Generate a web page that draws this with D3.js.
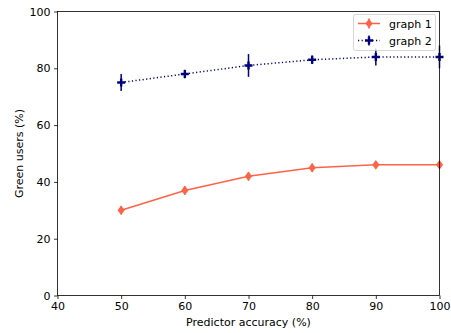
<!DOCTYPE html>
<html><head><meta charset="utf-8">
<script src="https://cdn.jsdelivr.net/npm/d3@7"></script>
<style>body{margin:0;background:#fff}svg{display:block}text{font-family:"DejaVu Sans",sans-serif}</style>
</head><body><svg id="c" width="451" height="333"></svg>
<script>
const xVals = [50, 60, 70, 80, 90, 100];
const graph1 = [30, 37, 42, 45, 46, 46];
const graph1Err = [1.5, 1.5, 1.5, 1.5, 1, 1];
const graph2 = [75, 78, 81, 83, 84, 84];
const graph2Err = [3, 1.5, 4, 1.5, 3, 4];
const xTicks = [40, 50, 60, 70, 80, 90, 100];
const yTicks = [0, 20, 40, 60, 80, 100];

const svg = d3.select("#c");
const L = 57.5, R = 439.5, T = 11.5, B = 295.5;
const FS = 11;
const x = d3.scaleLinear().domain([40, 100]).range([L, R]);
const y = d3.scaleLinear().domain([0, 100]).range([B, T]);

const series = [
  {name: "graph 1", vals: graph1, err: graph1Err, color: "#ff6347", dash: null, marker: "d"},
  {name: "graph 2", vals: graph2, err: graph2Err, color: "#000080", dash: "1.2,2.4", marker: "+"}
];

const g = svg.append("g");
function drawMarker(sel, s, cx, cy) {
  if (s.marker === "d") {
    sel.append("path").attr("d", `M${cx},${cy-4.8}L${cx+3.6},${cy}L${cx},${cy+4.8}L${cx-3.6},${cy}Z`).attr("fill", s.color);
  } else {
    sel.append("path").attr("d", `M${cx-4},${cy}H${cx+4}M${cx},${cy-4}V${cy+4}`).attr("stroke", s.color).attr("stroke-width", 2.4);
  }
}
series.forEach(s => {
  const line = d3.line().x((d,i) => x(xVals[i])).y(d => y(d));
  g.append("path").datum(s.vals).attr("d", line).attr("fill", "none").attr("stroke", s.color)
    .attr("stroke-width", 1.5).attr("stroke-dasharray", s.dash);
  s.vals.forEach((v, i) => {
    g.append("line").attr("x1", x(xVals[i])).attr("x2", x(xVals[i]))
      .attr("y1", y(v - s.err[i])).attr("y2", y(v + s.err[i])).attr("stroke", s.color).attr("stroke-width", 1.5);
    drawMarker(g, s, x(xVals[i]), y(v));
  });
});

// axes
const xa = svg.append("g").attr("transform", `translate(0,${B})`)
  .call(d3.axisBottom(x).tickValues(xTicks).tickSize(3.5).tickPadding(3.5).tickFormat(d3.format("d")));
const ya = svg.append("g").attr("transform", `translate(${L},0)`)
  .call(d3.axisLeft(y).tickValues(yTicks).tickSize(3.5).tickPadding(3.5).tickFormat(d3.format("d")));
[xa, ya].forEach(a => {
  a.select(".domain").remove();
  a.selectAll(".tick line").attr("stroke", "#000").attr("stroke-width", 0.8);
  a.selectAll(".tick text").attr("font-size", FS).attr("fill", "#000").attr("font-family", "DejaVu Sans");
});
svg.append("rect").attr("x", L).attr("y", T).attr("width", R-L).attr("height", B-T)
  .attr("fill", "none").attr("stroke", "#000").attr("stroke-width", 0.8);

svg.append("text").attr("x", (L+R)/2).attr("y", 326).attr("text-anchor", "middle")
  .attr("font-size", FS).text("Predictor accuracy (%)");
svg.append("text").attr("transform", `translate(23,${(T+B)/2}) rotate(-90)`).attr("text-anchor", "middle")
  .attr("font-size", FS).text("Green users (%)");

// legend
const lg = svg.append("g");
lg.append("rect").attr("x", 353.5).attr("y", 14.5).attr("width", 82).attr("height", 36).attr("rx", 2)
  .attr("fill", "#fff").attr("fill-opacity", 0.8).attr("stroke", "#ccc").attr("stroke-width", 0.8);
series.forEach((s, i) => {
  const ly = 23.5 + i * 17;
  lg.append("line").attr("x1", 358).attr("x2", 380).attr("y1", ly).attr("y2", ly).attr("stroke", s.color)
    .attr("stroke-width", 1.5).attr("stroke-dasharray", s.dash);
  lg.append("line").attr("x1", 369).attr("x2", 369).attr("y1", ly-5).attr("y2", ly+5).attr("stroke", s.color).attr("stroke-width", 1.5);
  drawMarker(lg, s, 369, ly);
  lg.append("text").attr("x", 389).attr("y", ly + 4).attr("font-size", FS).text(s.name);
});
</script></body></html>
